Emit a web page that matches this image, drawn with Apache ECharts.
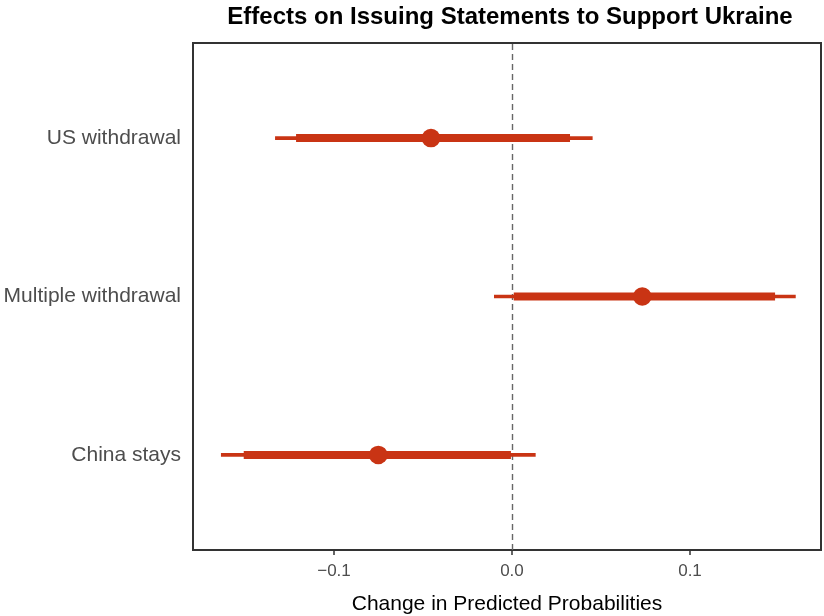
<!DOCTYPE html>
<html>
<head>
<meta charset="utf-8">
<script src="https://cdn.jsdelivr.net/npm/echarts@6/dist/echarts.min.js"></script>
<style>
  html, body { margin: 0; padding: 0; background: #fff; }
  #chart { width: 824px; height: 616px; }
</style>
</head>
<body>
<div id="chart"></div>
<script>
// Treatments, bottom to top on the plot
const categories = ['China stays', 'Multiple withdrawal', 'US withdrawal'];
// Point estimates of the change in predicted probability
const estimates = [-0.0751, 0.0732, -0.0455];
// Outer (thin) interval bounds
const outerLow = [-0.1635, -0.0101, -0.1331];
const outerHigh = [0.0133, 0.1594, 0.0453];
// Inner (thick) interval bounds
const innerLow = [-0.1507, 0.0010, -0.1213];
const innerHigh = [-0.0006, 0.1478, 0.0326];
// X axis ticks
const xTicks = [-0.1, 0.0, 0.1];

const RED = '#C93414';
const FONT = 'Liberation Sans';

const rows = categories.map((c, i) => [
  estimates[i], i + 1, outerLow[i], outerHigh[i], innerLow[i], innerHigh[i]
]);

function renderItem(params, api) {
  const y = api.value(1);
  const est = api.coord([api.value(0), y]);
  const oL = api.coord([api.value(2), y]);
  const oH = api.coord([api.value(3), y]);
  const iL = api.coord([api.value(4), y]);
  const iH = api.coord([api.value(5), y]);
  return {
    type: 'group',
    children: [
      { type: 'line', shape: { x1: oL[0], y1: oL[1], x2: oH[0], y2: oH[1] },
        style: { stroke: RED, lineWidth: 3.7 } },
      { type: 'line', shape: { x1: iL[0], y1: iL[1], x2: iH[0], y2: iH[1] },
        style: { stroke: RED, lineWidth: 8 } },
      { type: 'circle', shape: { cx: est[0], cy: est[1], r: 9.3 },
        style: { fill: RED } }
    ]
  };
}

const chart = echarts.init(document.getElementById('chart'), null, { renderer: 'canvas' });
chart.setOption({
  backgroundColor: '#fff',
  animation: false,
  title: {
    text: 'Effects on Issuing Statements to Support Ukraine',
    left: 505,
    textAlign: 'center',
    top: 0,
    textStyle: { fontFamily: FONT, fontSize: 24, fontWeight: 'bold', color: '#000' }
  },
  grid: {
    left: 193, right: 3, top: 43, bottom: 66,
    outerBoundsMode: 'none',
    containLabel: false,
    show: true, borderColor: '#333', borderWidth: 2, backgroundColor: '#fff'
  },
  xAxis: {
    type: 'value',
    min: -0.1792,
    max: 0.1736,
    axisLine: { show: false },
    splitLine: { show: false },
    axisTick: {
      show: true, length: 5, lineStyle: { color: '#333', width: 1.5 },
      customValues: xTicks
    },
    axisLabel: {
      customValues: xTicks,
      margin: 13,
      fontFamily: FONT, fontSize: 17, color: '#4D4D4D',
      formatter: v => (v < 0 ? '\u2212' : '') + Math.abs(v).toFixed(1)
    },
    name: 'Change in Predicted Probabilities',
    nameLocation: 'middle',
    nameGap: 44,
    nameTextStyle: { fontFamily: FONT, fontSize: 21, color: '#000' }
  },
  yAxis: {
    type: 'value',
    min: 0.4,
    max: 3.6,
    axisLine: { show: false },
    splitLine: { show: false },
    axisTick: {
      show: true, length: 5, lineStyle: { color: '#333', width: 1.5 },
      customValues: [1, 2, 3]
    },
    axisLabel: {
      customValues: [1, 2, 3],
      margin: 12,
      padding: [6, 0, 0, 0],
      fontFamily: FONT, fontSize: 21, color: '#4D4D4D',
      formatter: v => categories[Math.round(v) - 1]
    }
  },
  series: [
    {
      type: 'custom',
      renderItem: renderItem,
      data: rows,
      encode: { x: [0, 2, 3, 4, 5], y: 1 },
      z: 3,
      markLine: {
        silent: true,
        symbol: 'none',
        label: { show: false },
        lineStyle: { color: '#666', type: [6, 4], width: 1.4 },
        data: [{ xAxis: 0 }],
        z: 1
      }
    }
  ]
});
</script>
</body>
</html>
